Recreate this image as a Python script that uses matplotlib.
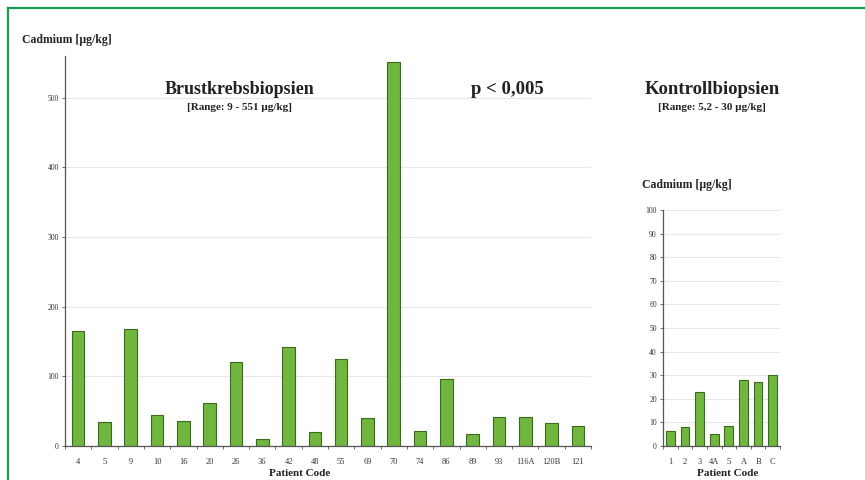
import matplotlib
matplotlib.use("Agg")
from matplotlib import pyplot as plt
from matplotlib.lines import Line2D
import numpy as np

# Breast cancer biopsies
tumor_codes = ["4", "5", "9", "10", "16", "20", "26", "36", "42", "48",
               "55", "69", "70", "74", "86", "89", "93", "116A", "120B", "121"]
tumor_cd = [165, 34, 168, 44, 36, 62, 121, 10, 142, 20,
            125, 40, 551, 22, 96, 17, 42, 42, 33, 29]

# Control biopsies
control_codes = ["1", "2", "3", "4A", "5", "A", "B", "C"]
control_cd = [6.5, 8, 23, 5.2, 8.5, 28, 27, 30]

BAR_FACE = "#70b63f"
BAR_EDGE = "#3a6a1c"
AXIS_COL = "#555555"
GRID_COL = "#e6e6e6"
FONT = "Liberation Serif"

plt.rcParams["font.family"] = FONT


def style_axes(ax, yticks, n):
    for s in ("top", "right"):
        ax.spines[s].set_visible(False)
    for s in ("left", "bottom"):
        ax.spines[s].set_color(AXIS_COL)
        ax.spines[s].set_linewidth(0.9)
    ax.set_yticks(yticks)
    ax.tick_params(axis="y", labelsize=5.5, length=2.5, width=0.6,
                   color=AXIS_COL, pad=2, labelcolor="#333333")
    ax.set_xticks(np.arange(n))
    ax.tick_params(axis="x", which="major", length=0, labelsize=6, pad=9,
                   labelcolor="#333333")
    ax.set_xticks(np.arange(n + 1) - 0.5, minor=True)
    ax.tick_params(axis="x", which="minor", length=2.5, width=0.6,
                   color=AXIS_COL)
    ax.grid(axis="y", color=GRID_COL, linewidth=0.8)
    ax.set_axisbelow(True)
    ax.set_xlim(-0.5, n - 0.5)


fig = plt.figure(figsize=(8.65, 4.8), dpi=100)

ax = fig.add_axes([65 / 865, 1 - 446 / 480, 526 / 865, 390 / 480])
x = np.arange(len(tumor_codes))
ax.bar(x, tumor_cd, width=0.48, color=BAR_FACE, edgecolor=BAR_EDGE,
       linewidth=0.8)
ax.set_ylim(0, 560)
style_axes(ax, np.arange(0, 501, 100), len(tumor_codes))
ax.set_xticklabels(tumor_codes)

ax2 = fig.add_axes([663 / 865, 1 - 446 / 480, 117 / 865, 236 / 480])
x2 = np.arange(len(control_codes))
ax2.bar(x2, control_cd, width=0.6, color=BAR_FACE, edgecolor=BAR_EDGE,
        linewidth=0.8)
ax2.set_ylim(0, 100)
style_axes(ax2, np.arange(0, 101, 10), len(control_codes))
ax2.set_xticklabels(control_codes)

# Titles and labels
def ftext(px, py, s, size, ha="center"):
    fig.text(px / 865, 1 - py / 480, s, fontsize=size, fontweight="bold",
             ha=ha, va="center", color="#222222")

ftext(22, 40, "Cadmium [µg/kg]", 8.5, ha="left")
ftext(240, 89, "Brustkrebsbiopsien", 13)
ftext(240, 107, "[Range: 9 - 551 µg/kg]", 8)
ftext(507, 89, "p < 0,005", 13.5)
ftext(712, 89, "Kontrollbiopsien", 13.5)
ftext(712, 107, "[Range: 5,2 - 30 µg/kg]", 8)
ftext(642, 185, "Cadmium [µg/kg]", 8.5, ha="left")
ftext(300, 474, "Patient Code", 8)
ftext(728, 474, "Patient Code", 8)

# Green frame around the figure
fig.add_artist(Line2D([8 / 865, 8 / 865], [0, 1 - 8 / 480],
                      transform=fig.transFigure, color="#1a9a50", lw=1.6))
fig.add_artist(Line2D([8 / 865, 1], [1 - 8 / 480, 1 - 8 / 480],
                      transform=fig.transFigure, color="#1a9a50", lw=1.6))

fig.savefig("out.png", dpi=100)
